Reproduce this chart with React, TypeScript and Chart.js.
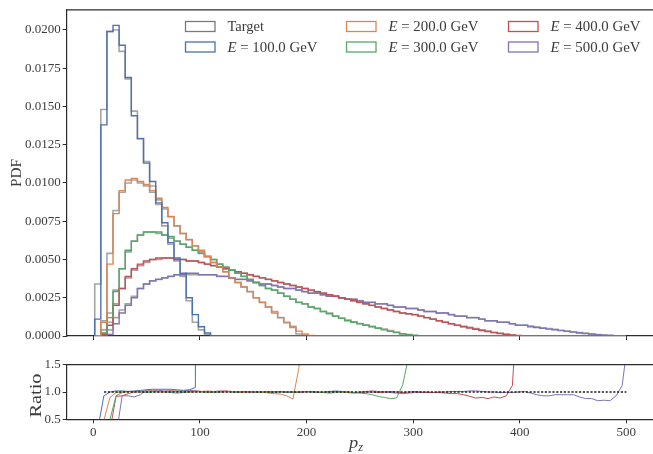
import React, { useEffect, useRef } from "react";
import { Chart, registerables } from "chart.js";
Chart.register(...registerables);

// ---------------- DATA ----------------
const BIN_START = 1.3;
const BIN_WIDTH = 5.72;
const N_BINS = 87;

const ENERGIES = [100, 200, 300, 400, 500];

const TARGET_100 = [0.0034, 0.0148, 0.0199, 0.02, 0.0186, 0.0168, 0.0147, 0.0129, 0.0114, 0.0098, 0.0086, 0.0072, 0.006, 0.0049, 0.0039, 0.0023, 0.0009, 0.0004, 0.0001];
const MODEL_100 = [0.0011, 0.0138, 0.0199, 0.0203, 0.019, 0.0169, 0.0144, 0.0129, 0.0113, 0.0101, 0.0087, 0.0074, 0.0061, 0.0051, 0.0041, 0.0025, 0.0014, 0.0006, 0.0002];

const TARGET_200 = [0, 0.001, 0.0054, 0.0082, 0.0094, 0.01, 0.0102, 0.01, 0.0098, 0.0094, 0.0089, 0.0083, 0.0078, 0.0072, 0.0067, 0.0063, 0.0059, 0.0055, 0.0052, 0.0048, 0.0045, 0.0042, 0.0038, 0.0035, 0.0032, 0.0029, 0.0025, 0.0022, 0.0019, 0.0016, 0.0012, 0.0009, 0.00064, 0.00013, 0.00003];
const MODEL_200 = [0, 0.0009, 0.0047, 0.008, 0.0095, 0.0102, 0.0103, 0.0101, 0.0099, 0.0095, 0.009, 0.0084, 0.0078, 0.0072, 0.0067, 0.0063, 0.0059, 0.0056, 0.0052, 0.0048, 0.0045, 0.0042, 0.0038, 0.0035, 0.0032, 0.0029, 0.0025, 0.0022, 0.0019, 0.0015, 0.0012, 0.00086, 0.00056, 0.00032, 0.00013, 0.00004];

const TARGET_300 = [0, 0.0004, 0.0015, 0.003, 0.0044, 0.0055, 0.0062, 0.0066, 0.0068, 0.0068, 0.0067, 0.0066, 0.0064, 0.0062, 0.006, 0.0058, 0.0056, 0.0054, 0.0052, 0.005, 0.0047, 0.0045, 0.0043, 0.0041, 0.0039, 0.0037, 0.0035, 0.0033, 0.0031, 0.003, 0.0028, 0.0026, 0.0024, 0.0022, 0.0021, 0.0019, 0.0018, 0.0016, 0.0015, 0.0013, 0.00118, 0.00104, 0.00092, 0.00082, 0.00072, 0.00063, 0.00054, 0.00045, 0.00035, 0.00025, 0.00013, 0.00006, 0.00001];
const MODEL_300 = [0, 0.0002, 0.0012, 0.0029, 0.0044, 0.0056, 0.0062, 0.0066, 0.0068, 0.0068, 0.0068, 0.0066, 0.0065, 0.0062, 0.006, 0.0058, 0.0056, 0.0054, 0.0052, 0.005, 0.0047, 0.0045, 0.0043, 0.0041, 0.0039, 0.0037, 0.0035, 0.0033, 0.0031, 0.003, 0.0028, 0.0026, 0.0024, 0.0022, 0.0021, 0.0019, 0.0018, 0.0016, 0.00145, 0.0013, 0.00115, 0.001, 0.0009, 0.0008, 0.0007, 0.0006, 0.0005, 0.0004, 0.0003, 0.00022, 0.00015, 0.0001, 0.00005, 0.00002];

const TARGET_400 = [0, 0.0002, 0.0009, 0.0021, 0.0031, 0.0038, 0.0043, 0.0046, 0.0048, 0.005, 0.005, 0.0051, 0.0051, 0.005, 0.005, 0.0049, 0.0049, 0.0048, 0.0047, 0.0046, 0.0045, 0.0044, 0.0043, 0.0042, 0.0041, 0.004, 0.0039, 0.0038, 0.0037, 0.0036, 0.0035, 0.0034, 0.0033, 0.0032, 0.0031, 0.003, 0.0029, 0.0028, 0.0027, 0.0026, 0.0025, 0.0024, 0.0023, 0.0022, 0.0021, 0.002, 0.0019, 0.0018, 0.0017, 0.0016, 0.0015, 0.00145, 0.0014, 0.0013, 0.0012, 0.0011, 0.001, 0.0009, 0.0008, 0.0007, 0.00063, 0.00057, 0.00049, 0.0004, 0.00033, 0.00024, 0.00018, 0.0001, 0.00004, 0.00001];
const MODEL_400 = [0, 0.0001, 0.0007, 0.002, 0.0031, 0.0039, 0.0044, 0.0047, 0.0049, 0.005, 0.0051, 0.0051, 0.0051, 0.005, 0.005, 0.0049, 0.0049, 0.0048, 0.0047, 0.0046, 0.0045, 0.0044, 0.0043, 0.0042, 0.0041, 0.004, 0.0039, 0.0038, 0.0037, 0.0036, 0.0035, 0.0034, 0.0033, 0.0032, 0.0031, 0.003, 0.0029, 0.0028, 0.0027, 0.0026, 0.0025, 0.0024, 0.0023, 0.0022, 0.0021, 0.002, 0.0019, 0.0018, 0.0017, 0.0016, 0.0015, 0.00145, 0.0014, 0.0013, 0.0012, 0.0011, 0.001, 0.0009, 0.0008, 0.0007, 0.0006, 0.00052, 0.00044, 0.00036, 0.00029, 0.00022, 0.00016, 0.00011, 0.00007, 0.00004, 0.00002];

const TARGET_500 = [0, 0.0001, 0.0004, 0.0012, 0.0017, 0.0021, 0.0026, 0.0031, 0.0034, 0.0036, 0.0037, 0.0038, 0.0039, 0.004, 0.004, 0.004, 0.004, 0.004, 0.004, 0.004, 0.0039, 0.0039, 0.0038, 0.0037, 0.0037, 0.0036, 0.0035, 0.0034, 0.0034, 0.0033, 0.0032, 0.0031, 0.0031, 0.003, 0.0029, 0.0028, 0.0028, 0.0027, 0.0026, 0.0026, 0.0025, 0.0024, 0.0024, 0.0023, 0.0022, 0.0022, 0.0021, 0.0021, 0.002, 0.0019, 0.0019, 0.0018, 0.0018, 0.0017, 0.0016, 0.0016, 0.0015, 0.0015, 0.0014, 0.0013, 0.0013, 0.0012, 0.0012, 0.0011, 0.001, 0.001, 0.0009, 0.0009, 0.0008, 0.0007, 0.0007, 0.00065, 0.0006, 0.00054, 0.00049, 0.00043, 0.00038, 0.00033, 0.00028, 0.00023, 0.00018, 0.00014, 0.0001, 0.00007, 0.00005, 0.00002, 0];
const MODEL_500 = [0, 0, 0.0001, 0.0008, 0.0015, 0.002, 0.0025, 0.0031, 0.0034, 0.0036, 0.0037, 0.0038, 0.0039, 0.004, 0.004, 0.0041, 0.0041, 0.004, 0.004, 0.004, 0.0039, 0.0039, 0.0038, 0.0037, 0.0037, 0.0036, 0.0035, 0.0034, 0.0034, 0.0033, 0.0032, 0.0031, 0.0031, 0.003, 0.0029, 0.0028, 0.0028, 0.0027, 0.0026, 0.0026, 0.0025, 0.0024, 0.0024, 0.0023, 0.0022, 0.0022, 0.0021, 0.0021, 0.002, 0.0019, 0.0019, 0.0018, 0.0018, 0.0017, 0.0016, 0.0016, 0.0015, 0.0015, 0.0014, 0.0013, 0.0013, 0.0012, 0.0012, 0.0011, 0.001, 0.001, 0.0009, 0.0009, 0.0008, 0.0007, 0.0007, 0.0006, 0.00055, 0.0005, 0.00045, 0.0004, 0.00035, 0.0003, 0.00025, 0.0002, 0.00016, 0.00012, 0.00009, 0.00006, 0.00004, 0.00002, 0.00001];

// ratio values at bin centres (null = not drawn)
const RATIO_100 = [0.32, 0.93, 1.0, 1.02, 1.02, 1.01, 1.02, 1.03, 1.04, 1.05, 1.05, 1.05, 1.05, 1.04, 1.03, 1.04, 1.08, 30];
const RATIO_200 = [null, 0.48, 0.9, 0.99, 1.0, 1.01, 1.01, 1.0, 1.01, 1.02, 1.01, 1.0, 1.01, 1.02, 1.01, 1.0, 1.0, 1.01, 1.02, 1.01, 1.0, 1.0, 1.01, 1.0, 0.99, 1.0, 1.01, 1.0, 0.98, 0.97, 0.96, 0.93, 0.87, 1.45, 5];
const RATIO_300 = [null, null, 0.5, 0.93, 0.99, 1.01, 1.01, 1.0, 0.99, 1.0, 1.01, 1.0, 0.99, 0.98, 0.99, 1.0, 1.01, 1.0, 1.0, 0.99, 1.0, 1.01, 1.0, 0.99, 1.0, 1.01, 1.0, 0.99, 1.0, 1.0, 1.01, 1.0, 0.99, 1.0, 1.01, 1.0, 1.0, 0.99, 0.98, 0.99, 1.0, 1.0, 0.99, 0.98, 0.97, 0.95, 0.92, 0.9, 0.88, 0.89, 1.13, 1.66, 8];
const RATIO_400 = [null, null, 0.3, 0.92, 0.93, 0.97, 1.0, 1.01, 1.02, 1.01, 1.0, 1.01, 1.02, 1.01, 1.0, 1.01, 1.02, 1.01, 1.0, 1.0, 1.01, 1.02, 1.01, 1.0, 0.99, 1.0, 1.01, 1.0, 0.99, 1.0, 1.01, 1.0, 1.0, 0.99, 1.0, 1.01, 1.0, 0.99, 1.0, 1.01, 1.0, 0.99, 0.98, 0.99, 1.0, 1.0, 0.99, 1.0, 1.01, 1.0, 0.99, 1.0, 1.01, 1.0, 0.99, 0.99, 0.99, 0.98, 0.97, 0.97, 0.95, 0.92, 0.89, 0.9, 0.88, 0.91, 0.89, 0.93, 1.12, 3];
const RATIO_500 = [null, null, null, 0.2, 0.93, 0.93, 0.91, 0.95, 1.04, 1.03, 1.03, 1.02, 1.02, 1.01, 1.02, 1.03, 1.02, 1.01, 1.0, 1.01, 1.02, 1.01, 1.0, 1.0, 1.01, 1.0, 0.99, 1.0, 1.01, 1.0, 1.0, 0.99, 1.0, 1.0, 1.01, 1.0, 0.99, 1.0, 1.01, 1.02, 1.01, 1.0, 0.99, 1.0, 1.01, 1.02, 1.01, 1.0, 0.99, 0.98, 0.97, 0.98, 0.99, 0.99, 1.0, 0.99, 1.0, 1.0, 1.01, 1.01, 1.01, 1.02, 1.02, 1.01, 1.0, 1.0, 0.99, 0.99, 0.99, 1.0, 1.01, 0.98, 0.95, 0.93, 0.93, 0.95, 0.95, 0.95, 0.95, 0.91, 0.88, 0.88, 0.84, 0.85, 0.84, 0.93, 1.12, 2.0];

const REF_LINE_X = [10, 500];

// ---------------- STYLE ----------------
const FONT = "'Liberation Serif', 'DejaVu Serif', serif";
const TEXT = "#3c3c3c";
const SPINE = "#2b2b2b";
const TARGET_COLOR = "rgba(105,105,105,0.6)";
const TARGET_LEGEND = "#7a7a7a";
const COLORS = ["#4C72B0", "#DD8452", "#55A868", "#C44E52", "#8172B3"];
const TARGETS = [TARGET_100, TARGET_200, TARGET_300, TARGET_400, TARGET_500];
const MODELS = [MODEL_100, MODEL_200, MODEL_300, MODEL_400, MODEL_500];
const RATIOS = [RATIO_100, RATIO_200, RATIO_300, RATIO_400, RATIO_500];

function histPoints(vals: number[]) {
  const pts: { x: number; y: number }[] = [{ x: BIN_START, y: 0 }];
  vals.forEach((v, i) => pts.push({ x: BIN_START + i * BIN_WIDTH, y: v }));
  pts.push({ x: BIN_START + vals.length * BIN_WIDTH, y: 0 });
  pts.push({ x: BIN_START + N_BINS * BIN_WIDTH, y: 0 });
  return pts;
}

function ratioPoints(vals: (number | null)[]) {
  return vals.map((v, i) => ({ x: BIN_START + (i + 0.5) * BIN_WIDTH, y: v }));
}

type Part = { text: string; italic?: boolean; size?: number; dy?: number };

function drawParts(ctx: CanvasRenderingContext2D, parts: Part[], x: number, y: number, size: number, targetW?: number, align: "left" | "center" = "left") {
  const widths = parts.map((p) => {
    ctx.font = `${p.italic ? "italic " : ""}${p.size ?? size}px ${FONT}`;
    return ctx.measureText(p.text).width;
  });
  const natural = widths.reduce((a, b) => a + b, 0);
  const sx = targetW ? targetW / natural : 1;
  const total = natural * sx;
  ctx.save();
  ctx.translate(align === "center" ? x - total / 2 : x, y);
  ctx.scale(sx, 1);
  ctx.textBaseline = "alphabetic";
  ctx.textAlign = "left";
  let cx = 0;
  parts.forEach((p, i) => {
    ctx.font = `${p.italic ? "italic " : ""}${p.size ?? size}px ${FONT}`;
    ctx.fillText(p.text, cx, p.dy ?? 0);
    cx += widths[i];
  });
  ctx.restore();
}

const mainDecor = {
  id: "mainDecor",
  afterDraw(chart: any) {
    const { ctx, chartArea } = chart;
    ctx.save();
    ctx.strokeStyle = SPINE;
    ctx.lineWidth = 1.2;
    ctx.beginPath();
    ctx.moveTo(chartArea.left, chartArea.top);
    ctx.lineTo(chartArea.right, chartArea.top);
    ctx.stroke();

    // legend
    const colX = [185, 346, 508];
    const rowY = [21, 41.5];
    const entries: { color: string; parts: Part[]; w: number }[] = [
      { color: TARGET_LEGEND, parts: [{ text: "Target" }], w: 36.5 },
      ...ENERGIES.map((e, i) => ({
        color: COLORS[i],
        parts: [{ text: "E", italic: true }, { text: " = " + e.toFixed(1) + " GeV" }],
        w: 90,
      })),
    ];
    entries.forEach((en, k) => {
      const col = Math.floor(k / 2);
      const row = k % 2;
      const bx = colX[col];
      const by = rowY[row];
      ctx.strokeStyle = en.color;
      ctx.lineWidth = 1.3;
      ctx.strokeRect(bx + 0.5, by + 0.5, 29.5, 10);
      ctx.fillStyle = TEXT;
      drawParts(ctx, en.parts, bx + 42.5, by + 10.3, 14, en.w);
    });

    // y title
    ctx.save();
    ctx.translate(20.5, 173);
    ctx.rotate(-Math.PI / 2);
    ctx.fillStyle = TEXT;
    drawParts(ctx, [{ text: "PDF" }], 0, 0, 15, 28, "center");
    ctx.restore();
    ctx.restore();
  },
};

const ratioDecor = {
  id: "ratioDecor",
  afterDraw(chart: any) {
    const { ctx, chartArea } = chart;
    ctx.save();
    ctx.strokeStyle = SPINE;
    ctx.lineWidth = 1.2;
    ctx.beginPath();
    ctx.moveTo(chartArea.left, chartArea.top);
    ctx.lineTo(chartArea.right, chartArea.top);
    ctx.stroke();
    ctx.fillStyle = TEXT;
    // y title
    ctx.save();
    ctx.translate(40.5, 45.5);
    ctx.rotate(-Math.PI / 2);
    drawParts(ctx, [{ text: "Ratio" }], 0, 0, 17, 44, "center");
    ctx.restore();
    // x title p_z
    drawParts(ctx, [{ text: "p", italic: true, size: 17 }, { text: "z", italic: true, size: 11.5, dy: 3.5 }], 356, 97.5, 17, 14, "center");
    ctx.restore();
  },
};

const tickFont = { family: FONT, size: 13 };

export default function App() {
  const mainRef = useRef<HTMLCanvasElement>(null);
  const ratioRef = useRef<HTMLCanvasElement>(null);

  useEffect(() => {
    const mainDatasets: any[] = [];
    MODELS.forEach((m, i) =>
      mainDatasets.push({
        data: histPoints(m),
        borderColor: COLORS[i],
        borderWidth: 1.4,
        stepped: "before",
        pointRadius: 0,
        fill: false,
        order: 0,
      })
    );
    TARGETS.forEach((t) =>
      mainDatasets.push({
        data: histPoints(t),
        borderColor: TARGET_COLOR,
        borderWidth: 1.6,
        stepped: "before",
        pointRadius: 0,
        fill: false,
        order: 1,
      })
    );

    const c1 = new Chart(mainRef.current as HTMLCanvasElement, {
      type: "line",
      data: { datasets: mainDatasets },
      options: {
        animation: false,
        responsive: false,
        devicePixelRatio: 1,
        parsing: false,
        normalized: true,
        layout: { padding: { top: 6, left: 0, right: 0, bottom: 0 } },
        plugins: { legend: { display: false }, tooltip: { enabled: false } },
        scales: {
          x: {
            type: "linear",
            min: -25,
            max: 525,
            ticks: { display: false, stepSize: 100, includeBounds: false },
            grid: { drawOnChartArea: false, drawTicks: true, tickLength: 4, color: SPINE, lineWidth: 1 },
            border: { color: SPINE, width: 1.2 },
            afterFit: (s: any) => {
              s.height = 14;
            },
          },
          y: {
            type: "linear",
            min: 0,
            max: 0.02132,
            ticks: {
              stepSize: 0.0025,
              includeBounds: false,
              font: tickFont,
              color: TEXT,
              padding: 2,
              callback: (v: any) => Number(v).toFixed(4),
            },
            grid: { drawOnChartArea: false, drawTicks: true, tickLength: 4, color: SPINE, lineWidth: 1 },
            border: { color: SPINE, width: 1.2 },
            afterFit: (s: any) => {
              s.width = 66.7;
            },
          },
        },
      } as any,
      plugins: [mainDecor],
    });

    const ratioDatasets: any[] = [
      {
        data: REF_LINE_X.map((x) => ({ x, y: 1 })),
        borderColor: "#222",
        borderWidth: 1.4,
        borderDash: [2.2, 1.6],
        pointRadius: 0,
        fill: false,
        order: 0,
      },
    ];
    RATIOS.forEach((r, i) =>
      ratioDatasets.push({
        data: ratioPoints(r),
        borderColor: COLORS[i],
        borderWidth: 1,
        pointRadius: 0,
        fill: false,
        spanGaps: false,
        order: 1,
      })
    );

    const c2 = new Chart(ratioRef.current as HTMLCanvasElement, {
      type: "line",
      data: { datasets: ratioDatasets },
      options: {
        animation: false,
        responsive: false,
        devicePixelRatio: 1,
        parsing: false,
        layout: { padding: { top: 14.7, left: 0, right: 0, bottom: 0 } },
        plugins: { legend: { display: false }, tooltip: { enabled: false } },
        scales: {
          x: {
            type: "linear",
            min: -25,
            max: 525,
            ticks: {
              stepSize: 100,
              includeBounds: false,
              font: tickFont,
              color: TEXT,
              padding: 1,
              maxRotation: 0,
              callback: (v: any) => String(Math.round(Number(v))),
            },
            grid: { drawOnChartArea: false, drawTicks: true, tickLength: 4, color: SPINE, lineWidth: 1 },
            border: { color: SPINE, width: 1.2 },
            afterFit: (s: any) => {
              s.height = 34.7;
            },
          },
          y: {
            type: "linear",
            min: 0.5,
            max: 1.5,
            ticks: {
              stepSize: 0.5,
              includeBounds: false,
              font: tickFont,
              color: TEXT,
              padding: 2,
              callback: (v: any) => Number(v).toFixed(1),
            },
            grid: { drawOnChartArea: false, drawTicks: true, tickLength: 4, color: SPINE, lineWidth: 1 },
            border: { color: SPINE, width: 1.2 },
            afterFit: (s: any) => {
              s.width = 66.7;
            },
          },
        },
      } as any,
      plugins: [ratioDecor],
    });

    return () => {
      c1.destroy();
      c2.destroy();
    };
  }, []);

  return (
    <div style={{ position: "fixed", left: 0, top: 0, width: 653, height: 454, background: "#fff" }}>
      <canvas ref={mainRef} width={653} height={350} style={{ position: "absolute", left: 0, top: 0, width: 653, height: 350 }} />
      <canvas ref={ratioRef} width={653} height={104} style={{ position: "absolute", left: 0, top: 350, width: 653, height: 104 }} />
    </div>
  );
}
